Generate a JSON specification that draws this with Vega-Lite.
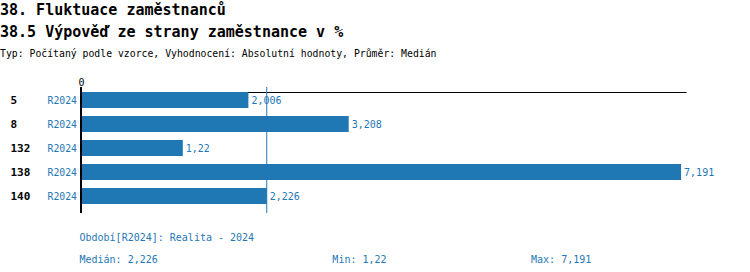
{
  "$schema": "https://vega.github.io/schema/vega-lite/v6.json",
  "autosize": "none",
  "padding": {"left": 81, "top": 87, "right": 64, "bottom": 59},
  "width": 605,
  "height": 126,
  "background": "white",
  "config": {
    "view": {"stroke": null},
    "font": "DejaVu Sans Mono",
    "locale": {"number": {"decimal": ",", "thousands": " ", "grouping": [3], "currency": ["", " Kč"]}}
  },
  "title": {
    "text": ["38. Fluktuace zaměstnanců", "38.5 Výpověď ze strany zaměstnance v %"],
    "subtitle": "Typ: Počítaný podle vzorce, Vyhodnocení: Absolutní hodnoty, Průměr: Medián",
    "anchor": "start",
    "frame": "group",
    "dx": -81,
    "font": "DejaVu Sans Mono",
    "fontSize": 15,
    "fontWeight": "bold",
    "color": "#000000",
    "lineHeight": 22,
    "subtitleFont": "DejaVu Sans Mono",
    "subtitleFontSize": 9.8,
    "subtitleColor": "#000000",
    "subtitleFontWeight": "normal",
    "subtitlePadding": 9,
    "offset": 18
  },
  "data": {
    "values": [
      {"id": "5", "period": "R2024", "value": 2.006},
      {"id": "8", "period": "R2024", "value": 3.208},
      {"id": "132", "period": "R2024", "value": 1.22},
      {"id": "138", "period": "R2024", "value": 7.191},
      {"id": "140", "period": "R2024", "value": 2.226}
    ]
  },
  "layer": [
    {
      "mark": {"type": "bar", "color": "#1f77b4"},
      "encoding": {
        "y": {
          "field": "id", "type": "nominal", "sort": null,
          "scale": {"paddingInner": 0.3333, "paddingOuter": 0.29167, "align": 0.357},
          "axis": {"title": null, "domain": false, "ticks": false, "tickSize": 0, "labelAlign": "left", "labelPadding": 71, "labelFont": "DejaVu Sans Mono", "labelFontSize": 11, "labelFontWeight": "bold", "labelColor": "#000000", "labelBaseline": "middle", "labelOffset": 1}
        },
        "x": {
          "field": "value", "type": "quantitative",
          "scale": {"domain": [0, 7.25], "nice": false, "zero": true},
          "axis": {"orient": "top", "offset": -5, "values": [0], "grid": false, "ticks": false, "tickSize": 0, "title": null, "domain": true, "domainColor": "#000000", "domainWidth": 1, "labelFont": "DejaVu Sans Mono", "labelFontSize": 10, "labelColor": "#000000", "labelPadding": 5, "labelFlush": false}
        }
      }
    },
    {
      "mark": {"type": "text", "align": "left", "baseline": "middle", "dx": 3, "dy": 1, "color": "#1f77b4", "font": "DejaVu Sans Mono", "fontSize": 10},
      "encoding": {
        "y": {"field": "id", "type": "nominal", "sort": null},
        "x": {"field": "value", "type": "quantitative", "axis": null},
        "text": {"field": "value", "type": "quantitative", "format": "~g"}
      }
    },
    {
      "mark": {"type": "text", "align": "right", "baseline": "middle", "dx": -4, "dy": 1, "color": "#1f77b4", "font": "DejaVu Sans Mono", "fontSize": 9.8},
      "encoding": {
        "y": {"field": "id", "type": "nominal", "sort": null},
        "x": {"datum": 0, "type": "quantitative", "axis": null},
        "text": {"field": "period", "type": "nominal"}
      }
    },
    {
      "mark": {"type": "rule", "color": "#1f77b4", "strokeWidth": 1},
      "encoding": {
        "x": {
          "aggregate": "median", "field": "value", "type": "quantitative",
          "axis": {
            "orient": "bottom", "domain": false, "ticks": false, "labels": false, "grid": false,
            "title": ["Období[R2024]: Realita - 2024", "Medián: 2,226\u00a0\u00a0\u00a0\u00a0\u00a0\u00a0\u00a0\u00a0\u00a0\u00a0\u00a0\u00a0\u00a0\u00a0\u00a0\u00a0\u00a0\u00a0\u00a0\u00a0\u00a0\u00a0\u00a0\u00a0\u00a0\u00a0\u00a0\u00a0\u00a0Min: 1,22\u00a0\u00a0\u00a0\u00a0\u00a0\u00a0\u00a0\u00a0\u00a0\u00a0\u00a0\u00a0\u00a0\u00a0\u00a0\u00a0\u00a0\u00a0\u00a0\u00a0\u00a0\u00a0\u00a0\u00a0Max: 7,191"],
            "titleAnchor": "start", "titleAlign": "left", "titleX": -2, "titlePadding": 19,
            "titleFont": "DejaVu Sans Mono", "titleFontSize": 10, "titleFontWeight": "normal", "titleColor": "#1f77b4", "titleLineHeight": 22, "titleBaseline": "top"
          }
        }
      }
    },
    {
      "mark": {"type": "rule", "color": "#000000", "strokeWidth": 2},
      "encoding": {
        "x": {"datum": 0, "type": "quantitative", "axis": null}
      }
    }
  ],
  "resolve": {"axis": {"x": "independent"}}
}
